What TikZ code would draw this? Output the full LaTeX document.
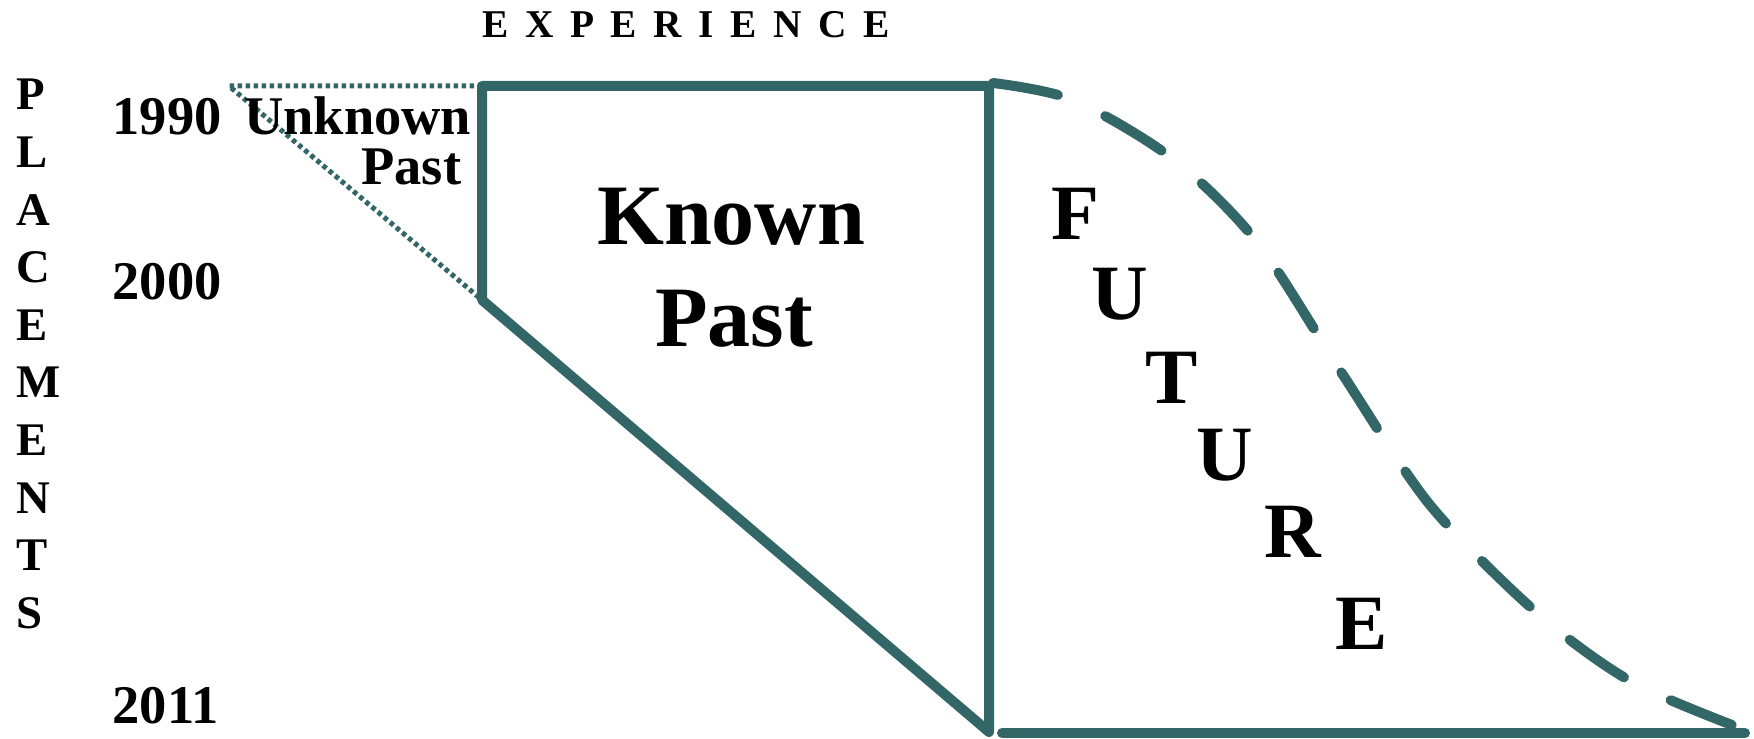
\documentclass[tikz,border=0pt]{standalone}
\usepackage{fontspec}
\setmainfont{Liberation Serif}

\definecolor{linecol}{RGB}{51,102,102}

\tikzset{
  edge/.style={draw=linecol, line width=1mm, line join=round, line cap=round},
  dotline/.style={draw=linecol, line width=0.5mm, dash pattern=on 0.45mm off 0.35mm},
  dashline/.style={draw=linecol, line width=1mm, line cap=round, dash pattern=on 6.6mm off 5.2mm},
  year/.style={anchor=base west, inner sep=0pt, font=\bfseries\fontsize{15.5}{17}\selectfont},
  axis/.style={inner sep=0pt, font=\bfseries\fontsize{13.3}{15}\selectfont},
  big/.style={anchor=base, inner sep=0pt, font=\bfseries\fontsize{24.5}{28}\selectfont},
  future/.style={anchor=base, inner sep=0pt, font=\bfseries\fontsize{22.3}{25}\selectfont},
}

\begin{document}
\begin{tikzpicture}[x=0.1mm, y=-0.1mm]
\useasboundingbox (0,0) rectangle (1754,739);

% unknown past (dotted)
\draw[dotline] (482,86) -- (229,86) -- (482,300);

% known past
\draw[edge] (482,86) -- (989,86) -- (989,732) -- (482,300) -- cycle;

% future
\draw[edge] (1002,733) -- (1745,733);
\draw[dashline] plot[smooth] coordinates {(993,83) (1073,100) (1173,159) (1257,242)
  (1343,375) (1430,505) (1537,613) (1632,682) (1745,730)};

% axes
\node[axis, anchor=base, font=\bfseries\fontsize{11.2}{13}\selectfont] (exp) at (686,38)
  {\spaceskip=.42em E X P E R I E N C E};
\foreach \c [count=\i from 0] in {P,L,A,C,E,M,E,N,T,S}
  \node[axis, anchor=base west] (pl\i) at (16,110+57.6*\i) {\c};

% years
\node[year] (y1990) at (112,135) {1990};
\node[year] (y2000) at (112,300) {2000};
\node[year] (y2011) at (112,723) {2011};

% labels
\node[year, anchor=base east] (unk1) at (472,135) {Unknown};
\node[year, anchor=base east] (unk2) at (462,185) {Past};
\node[big] (known1) at (731,245) {Known};
\node[big] (known2) at (734,347) {Past};

\foreach \c/\x/\y [count=\i] in {F/1075/240, U/1120/320, T/1172/404, U/1225/481, R/1293/558, E/1362/650}
  \node[future] (fu\i) at (\x,\y) {\c};
\end{tikzpicture}
\end{document}
